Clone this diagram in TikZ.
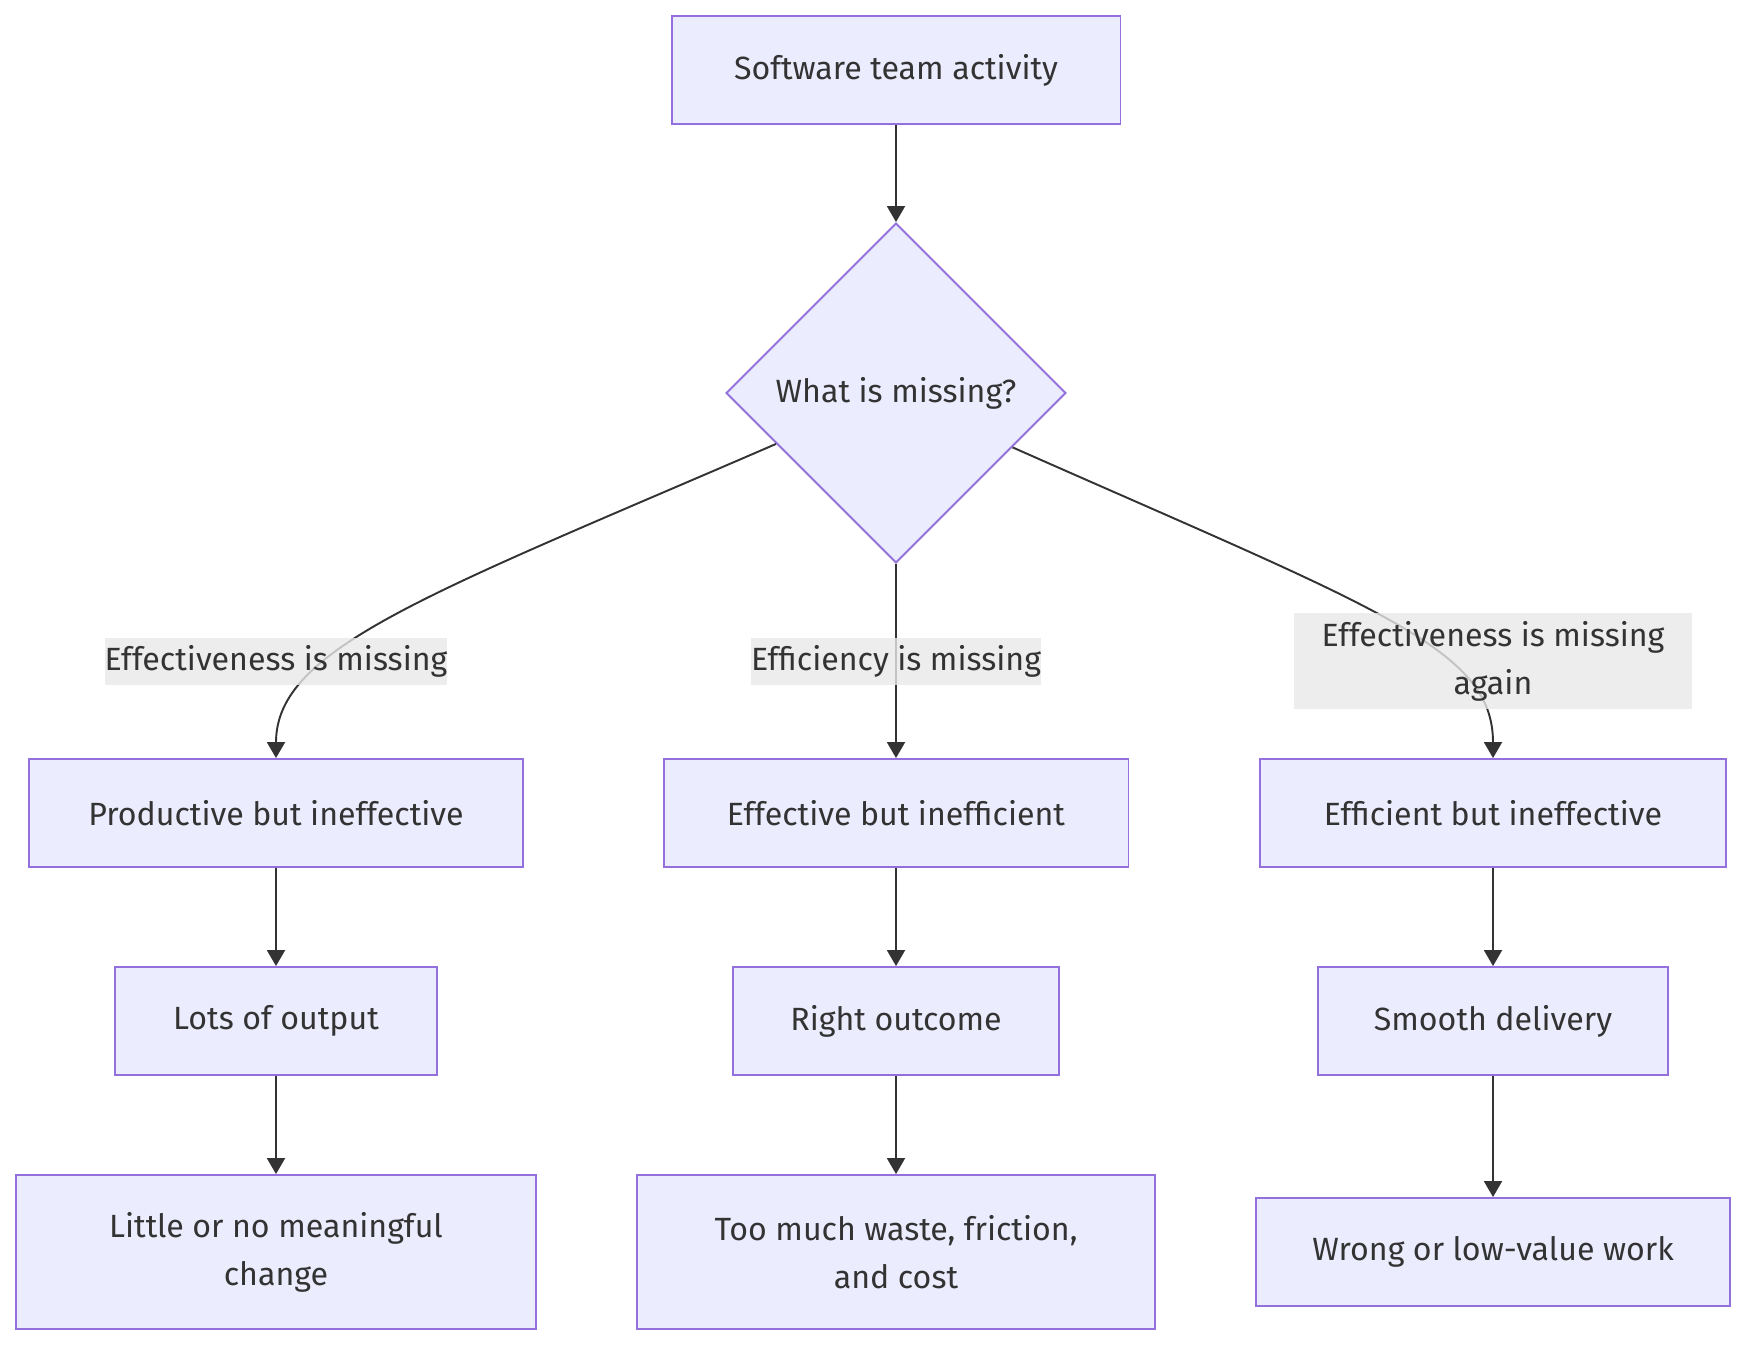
\documentclass[tikz,border=0pt]{standalone}
\usepackage{fontspec}
\setmainfont{Fira Sans}
\usetikzlibrary{arrows.meta,shapes.geometric}
\definecolor{boxfill}{HTML}{ECECFF}
\definecolor{boxline}{HTML}{9370DB}
\definecolor{ink}{HTML}{333333}
\definecolor{lblfill}{HTML}{E8E8E8}

\begin{document}
\begin{tikzpicture}[x=0.02cm,y=-0.02cm,
		font=\fontsize{18.3}{27.3}\selectfont,text=ink,
		box/.style={draw=boxline,fill=boxfill,line width=1.1pt,inner sep=0pt,align=center,minimum height=2.16cm},
		lbl/.style={fill=lblfill,fill opacity=0.8,text opacity=1,inner sep=0pt,align=center,minimum height=0.94cm},
		edge/.style={draw=ink,line width=1.1pt,-{Triangle[length=0.32cm,width=0.36cm]}}]
			\useasboundingbox (0,0) rectangle (1747,1347);
			% top and decision
			\node[box,minimum width=8.98cm] (top) at (896,70) {Software team activity};
			\node[box,shape=diamond,minimum width=6.8cm,minimum height=6.8cm] (q) at (896,393) {What is missing?};
			% three branches
			\node[box,minimum width=9.9cm]  (prod)   at (276,813)  {Productive but ineffective};
			\node[box,minimum width=9.3cm]  (effi)   at (896,813)  {Effective but inefficient};
			\node[box,minimum width=9.32cm] (eff2)   at (1493,813) {Efficient but ineffective};
			\node[box,minimum width=6.44cm] (lots)   at (276,1021) {Lots of output};
			\node[box,minimum width=6.52cm] (right)  at (896,1021) {Right outcome};
			\node[box,minimum width=7cm]    (smooth) at (1493,1021) {Smooth delivery};
			\node[box,minimum width=10.4cm,minimum height=3.08cm] (little) at (276,1252) {Little or no meaningful\\change};
			\node[box,minimum width=10.36cm,minimum height=3.08cm] (waste) at (896,1252) {Too much waste, friction,\\and cost};
			\node[box,minimum width=9.48cm] (wrong)  at (1493,1252) {Wrong or low-value work};
			% connectors
			\draw[edge] (top) -- (q);
			\draw[edge] (q.203) .. controls +(-349,151) and +(0,-110) .. (prod.north);
			\draw[edge] (q) -- (effi);
			\draw[edge] (q.335) .. controls +(366,162) and +(0,-110) .. (eff2.north);
			\draw[edge] (prod) -- (lots);
			\draw[edge] (lots) -- (little);
			\draw[edge] (effi) -- (right);
			\draw[edge] (right) -- (waste);
			\draw[edge] (eff2) -- (smooth);
			\draw[edge] (smooth) -- (wrong);
			% edge labels
			\node[lbl,minimum width=6.7cm]  (l1) at (276,661)  {Effectiveness is missing};
			\node[lbl,minimum width=5.76cm] (l2) at (896,661)  {Efficiency is missing};
			\node[lbl,minimum width=7.96cm,minimum height=1.92cm] (l3) at (1493,661) {Effectiveness is missing\\again};
		\end{tikzpicture}
\end{document}
